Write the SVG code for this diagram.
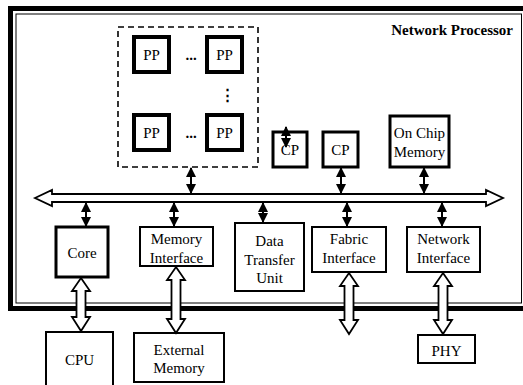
<svg xmlns="http://www.w3.org/2000/svg" width="523" height="385" viewBox="0 0 523 385">
<defs>
<style>
text{font-family:"Liberation Serif","Times New Roman",serif;font-size:15px;fill:#000;text-anchor:middle}
.dots{font-weight:bold}
.b4{fill:#fff;stroke:#000;stroke-width:4}
.b3{fill:#fff;stroke:#000;stroke-width:3}
.b2{fill:#fff;stroke:#000;stroke-width:2}
.conn{stroke:#000;stroke-width:2;fill:none;marker-start:url(#ah);marker-end:url(#ah)}
.hollow{fill:#fff;stroke:#000;stroke-width:1.8;stroke-linejoin:miter}
</style>
<marker id="ah" viewBox="0 0 10 10" refX="9" refY="5" markerWidth="5" markerHeight="5" orient="auto-start-reverse" markerUnits="strokeWidth">
<path d="M0,0 L10,5 L0,10 Z" fill="#000"/>
</marker>
</defs>
<rect width="523" height="385" fill="#fff"/>
<g id="frame">
<rect x="10.5" y="8.5" width="520" height="300" fill="none" stroke="#000" stroke-width="5"/>
<rect x="16" y="14" width="505.5" height="289" fill="none" stroke="#000" stroke-width="1"/>
<text x="513" y="35" style="text-anchor:end;font-weight:bold">Network Processor</text>
</g>
<g id="pp-cluster">
<rect x="118" y="27" width="140" height="140" fill="none" stroke="#000" stroke-width="1.6" stroke-dasharray="6,4"/>
<text class="dots" x="191" y="60">...</text>
<text class="dots" x="191" y="138">...</text>
<text class="dots" x="227" y="100">⋮</text>
</g>
<g id="pp1"><rect class="b4" x="134" y="37" width="35" height="35"/><text x="151.5" y="60">PP</text></g>
<g id="pp2"><rect class="b4" x="207" y="37" width="35" height="35"/><text x="224.5" y="60">PP</text></g>
<g id="pp3"><rect class="b4" x="134" y="115" width="35" height="35"/><text x="151.5" y="138">PP</text></g>
<g id="pp4"><rect class="b4" x="207" y="115" width="35" height="35"/><text x="224.5" y="138">PP</text></g>
<g id="cp1"><rect class="b3" x="273" y="132" width="34" height="35"/><text x="290" y="155">CP</text></g>
<g id="cp2"><rect class="b3" x="323" y="132" width="35" height="35"/><text x="340.5" y="155">CP</text></g>
<g id="onchip"><rect class="b3" x="390" y="116" width="59" height="51"/><text x="419.5" y="138">On Chip</text><text x="419.5" y="157">Memory</text></g>
<g id="core"><rect class="b3" x="56" y="227" width="52" height="50"/><text x="82" y="258">Core</text></g>
<g id="memif"><rect class="b2" x="140" y="227" width="73" height="39"/><text x="176.5" y="244">Memory</text><text x="176.5" y="262.5">Interface</text></g>
<g id="dtu"><rect class="b2" x="235" y="223" width="69" height="68"/><text x="269.5" y="246">Data</text><text x="269.5" y="264.5">Transfer</text><text x="269.5" y="283">Unit</text></g>
<g id="fabric"><rect class="b2" x="312" y="227" width="74" height="45"/><text x="349" y="244">Fabric</text><text x="349" y="262.5">Interface</text></g>
<g id="netif"><rect class="b2" x="407" y="227" width="73" height="45"/><text x="443.5" y="244">Network</text><text x="443.5" y="262.5">Interface</text></g>
<g id="cpu"><rect class="b2" x="46" y="332" width="67" height="60"/><text x="79.5" y="365">CPU</text></g>
<g id="extmem"><rect class="b2" x="134" y="333" width="90" height="49"/><text x="179" y="355">External</text><text x="179" y="373">Memory</text></g>
<g id="phy"><rect class="b2" x="418" y="335" width="57" height="28"/><text x="446.5" y="356">PHY</text></g>
<g id="connectors">
<path class="hollow" d="M35,198 L52,190 L52,194 L486,194 L486,190 L503,198 L486,206 L486,202 L52,202 L52,206 Z"/>
<line class="conn" x1="191" y1="168" x2="191" y2="193"/>
<line class="conn" x1="341" y1="168" x2="341" y2="193"/>
<line class="conn" x1="424" y1="168" x2="424" y2="193"/>
<line class="conn" x1="286" y1="127" x2="286" y2="147"/>
<line class="conn" x1="86" y1="203" x2="86" y2="226"/>
<line class="conn" x1="174" y1="203" x2="174" y2="226"/>
<line class="conn" x1="263" y1="203" x2="263" y2="222"/>
<line class="conn" x1="347" y1="203" x2="347" y2="226"/>
<line class="conn" x1="442" y1="203" x2="442" y2="226"/>
<path class="hollow" d="M81,278 L90,291 L85.5,291 L85.5,317 L90,317 L81,331 L72,317 L76.5,317 L76.5,291 L72,291 Z"/>
<path class="hollow" d="M176,267 L185,280 L180.5,280 L180.5,319 L185,319 L176,333 L167,319 L171.5,319 L171.5,280 L167,280 Z"/>
<path class="hollow" d="M349,273 L358,286 L353.5,286 L353.5,320 L358,320 L349,334 L340,320 L344.5,320 L344.5,286 L340,286 Z"/>
<path class="hollow" d="M443,273 L452,286 L447.5,286 L447.5,320 L452,320 L443,334 L434,320 L438.5,320 L438.5,286 L434,286 Z"/>
</g>
</svg>
